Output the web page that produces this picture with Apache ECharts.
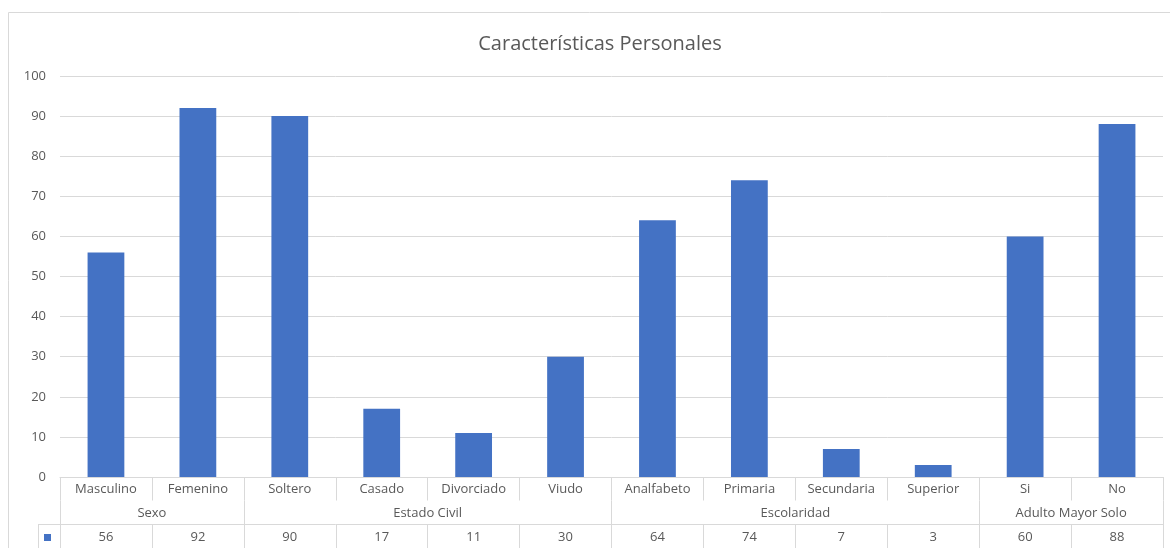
<!DOCTYPE html>
<html>
<head>
<meta charset="utf-8">
<script src="https://cdn.jsdelivr.net/npm/echarts@6/dist/echarts.min.js"></script>
<style>
  html, body { margin: 0; padding: 0; background: #ffffff; }
  #chart { width: 1170px; height: 548px; }
</style>
</head>
<body>
<div id="chart"></div>
<script>
// Categories, their groups and the counts for each one
const categories = ['Masculino', 'Femenino', 'Soltero', 'Casado', 'Divorciado', 'Viudo',
                    'Analfabeto', 'Primaria', 'Secundaria', 'Superior', 'Si', 'No'];
const values = [56, 92, 90, 17, 11, 30, 64, 74, 7, 3, 60, 88];
const groupNames = ['Sexo', 'Estado Civil', 'Escolaridad', 'Adulto Mayor Solo'];
const groupSizes = [2, 4, 4, 2];
const yTicks = [0, 10, 20, 30, 40, 50, 60, 70, 80, 90, 100];

// Group edges and centres on a 0..12 scale (one unit per category)
const groupEdges = [0];
groupSizes.forEach(s => groupEdges.push(groupEdges[groupEdges.length - 1] + s));
const groupCenters = groupSizes.map((s, i) => groupEdges[i] + s / 2);

const FONT = '"Open Sans", "Noto Sans", sans-serif';
const TEXT = '#595959';
const LINE = '#d9d9d9';
const ROW = 23.5;

const grid = { left: 60, right: 7, top: 76, bottom: 71 };
const W = 1170, H = 548;
const axisY = H - grid.bottom;
const tableRowY = axisY + ROW * 2;

const chart = echarts.init(document.getElementById('chart'), null, { renderer: 'canvas' });

chart.setOption({
  animation: false,
  textStyle: { fontFamily: FONT },
  title: {
    text: 'Características Personales',
    left: 595, top: 29, textAlign: 'center',
    textStyle: { fontFamily: FONT, fontSize: 20, fontWeight: 'normal', color: TEXT }
  },
  grid: grid,
  yAxis: {
    type: 'value', min: yTicks[0], max: yTicks[yTicks.length - 1], interval: yTicks[1] - yTicks[0],
    axisLine: { show: false }, axisTick: { show: false },
    axisLabel: { color: TEXT, fontSize: 13, margin: 14, fontFamily: FONT },
    splitLine: { lineStyle: { color: LINE, width: 1 } }
  },
  xAxis: [
    {
      // category names row
      type: 'category', data: categories, position: 'bottom',
      axisLine: { lineStyle: { color: LINE, width: 1 } },
      axisTick: { show: true, length: ROW, lineStyle: { color: LINE } },
      axisLabel: { color: TEXT, fontSize: 13, margin: 6, fontFamily: FONT, interval: 0 },
      splitLine: { show: false }
    },
    {
      // group names row
      type: 'value', min: 0, max: categories.length, position: 'bottom', offset: ROW,
      axisLine: { show: false },
      axisTick: { show: true, length: ROW, customValues: groupEdges, lineStyle: { color: LINE } },
      axisLabel: {
        color: TEXT, fontSize: 13, margin: 6, fontFamily: FONT,
        customValues: groupCenters,
        formatter: v => groupNames[groupCenters.indexOf(v)]
      },
      splitLine: { show: false }
    },
    {
      // data table row
      type: 'category', data: categories, position: 'bottom', offset: ROW * 2,
      axisLine: { lineStyle: { color: LINE, width: 1 } },
      axisTick: { show: true, length: 40, lineStyle: { color: LINE } },
      axisLabel: {
        color: TEXT, fontSize: 13, margin: 7, fontFamily: FONT, interval: 0,
        formatter: (v, i) => String(values[i])
      },
      splitLine: { show: false }
    }
  ],
  series: [{
    type: 'bar', xAxisIndex: 0, data: values,
    barCategoryGap: '60%',
    itemStyle: { color: '#4472C4' }
  }],
  graphic: [
    // chart frame
    { type: 'rect', silent: true, shape: { x: 8.5, y: 12.5, width: W + 40, height: H + 40 },
      style: { fill: 'none', stroke: LINE, lineWidth: 1 } },
    // legend-key cell of the data table
    { type: 'line', silent: true, shape: { x1: 38, y1: tableRowY + 0.5, x2: grid.left, y2: tableRowY + 0.5 },
      style: { stroke: LINE, lineWidth: 1 } },
    { type: 'line', silent: true, shape: { x1: 38.5, y1: tableRowY, x2: 38.5, y2: H + 10 },
      style: { stroke: LINE, lineWidth: 1 } },
    { type: 'rect', silent: true, shape: { x: 44, y: tableRowY + 10, width: 7, height: 7 },
      style: { fill: '#4472C4' } }
  ]
});
</script>
</body>
</html>
